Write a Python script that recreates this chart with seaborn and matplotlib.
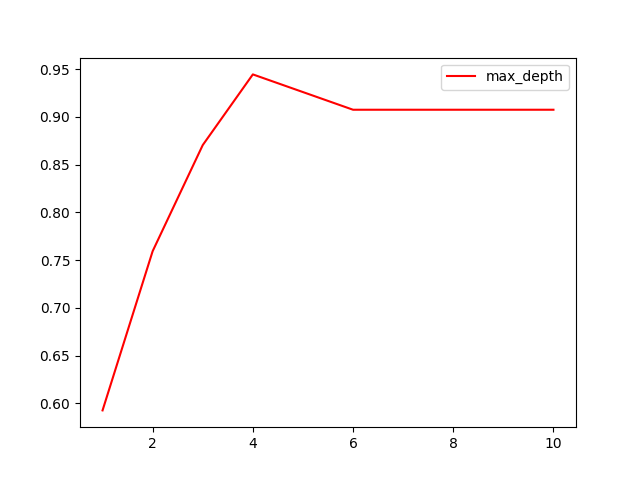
import matplotlib
matplotlib.use("Agg")
import matplotlib.pyplot as plt
import seaborn as sns
import pandas as pd

max_depth = [1, 2, 3, 4, 5, 6, 7, 8, 9, 10]
accuracy = [0.5926, 0.7593, 0.8704, 0.9444, 0.9259, 0.9074, 0.9074, 0.9074, 0.9074, 0.9074]

df = pd.DataFrame({"max_depth": max_depth, "accuracy": accuracy})

fig, ax = plt.subplots(figsize=(6.4, 4.8), dpi=100)
sns.lineplot(data=df, x="max_depth", y="accuracy", color="red", label="max_depth", ax=ax)
ax.set_xlabel("")
ax.set_ylabel("")
ax.legend(loc="upper right")
fig.savefig("out.png", dpi=100)
